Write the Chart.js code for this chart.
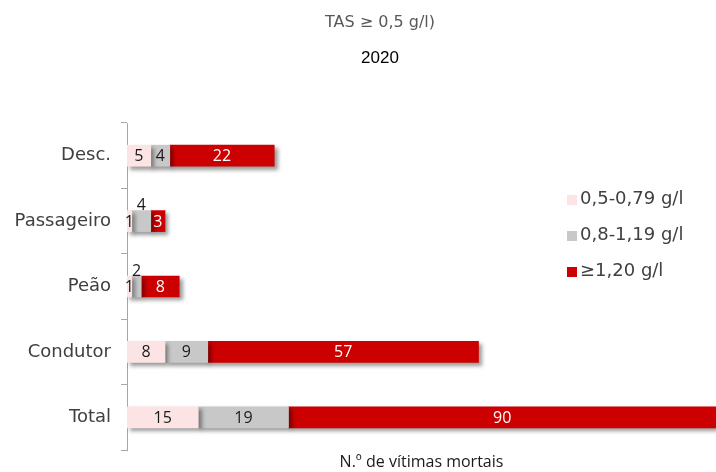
<!DOCTYPE html>
<html>
<head>
<meta charset="utf-8">
<script src="https://cdn.jsdelivr.net/npm/chart.js@4/dist/chart.umd.min.js"></script>
<style>
    body { margin: 0; background: #fff; }
    #wrap { position: relative; width: 716px; height: 472px; }
    .title { position: absolute; left: 280px; width: 200px; text-align: center; }
    #t1 { top: 12px; font: 16px "DejaVu Sans", sans-serif; color: #595959; }
    #t2 { top: 48px; font: 17px "Liberation Sans", sans-serif; color: #000; }
    #legend { position: absolute; left: 567px; top: 187px; font: 18px "DejaVu Sans", sans-serif; color: #404040; }
    #legend div { height: 36px; display: flex; align-items: flex-start; }
    #legend span.box { display: inline-block; width: 10px; height: 10px; margin: 8px 3px 0 0; }
</style>
</head>
<body>
<div id="wrap">
    <canvas id="chart"></canvas>
    <div class="title" id="t1">TAS ≥ 0,5 g/l)</div>
    <div class="title" id="t2">2020</div>
    <div id="legend"></div>
</div>
<script>
document.addEventListener('DOMContentLoaded', function () {
    // data
    const categories = ['Desc.', 'Passageiro', 'Peão', 'Condutor', 'Total'];
    const seriesNames = ['0,5-0,79 g/l', '0,8-1,19 g/l', '≥1,20 g/l'];
    const low = [5, 1, 1, 8, 15];
    const mid = [4, 4, 2, 9, 19];
    const high = [22, 3, 8, 57, 90];

    const colors = {
        low: '#fde4e4',
        mid: '#c8c8c8',
        high: '#cc0000'
    };
    const labelColors = ['#1a1a1a', '#1a1a1a', '#ffffff'];

    // drop shadow on the bars
    const shadowPlugin = {
        id: 'barShadow',
        beforeDatasetDraw(chart) {
            const ctx = chart.ctx;
            ctx.save();
            ctx.shadowColor = 'rgba(0,0,0,0.4)';
            ctx.shadowBlur = 4;
            ctx.shadowOffsetX = 3;
            ctx.shadowOffsetY = 3;
        },
        afterDatasetDraw(chart) {
            chart.ctx.restore();
        }
    };

    // value labels inside the segments
    const labelPlugin = {
        id: 'segLabels',
        afterDatasetsDraw(chart) {
            const ctx = chart.ctx;
            ctx.save();
            ctx.font = '16px "Open Sans", sans-serif';
            ctx.textAlign = 'center';
            chart.data.labels.forEach(function (cat, j) {
                let prevOverflow = false;
                let prevAbove = false;
                chart.data.datasets.forEach(function (ds, i) {
                    const bar = chart.getDatasetMeta(i).data[j];
                    const text = String(ds.data[j]);
                    const w = Math.abs(bar.x - bar.base);
                    const tw = ctx.measureText(text).width;
                    const cx = (bar.x + bar.base) / 2;
                    const above = prevOverflow && !prevAbove;
                    if (above) {
                        ctx.fillStyle = '#1a1a1a';
                        ctx.textBaseline = 'bottom';
                        ctx.fillText(text, cx, bar.y - bar.height / 2 + 3);
                    } else {
                        ctx.fillStyle = w < tw ? '#1a1a1a' : labelColors[i];
                        ctx.textBaseline = 'middle';
                        ctx.fillText(text, cx, bar.y + 1);
                    }
                    prevOverflow = w < tw + 2;
                    prevAbove = above;
                });
            });
            ctx.restore();
        }
    };

    const chart = new Chart(document.getElementById('chart'), {
        type: 'bar',
        data: {
            labels: categories,
            datasets: [
                { label: seriesNames[0], data: low, backgroundColor: colors.low },
                { label: seriesNames[1], data: mid, backgroundColor: colors.mid },
                { label: seriesNames[2], data: high, backgroundColor: colors.high }
            ]
        },
        options: {
            indexAxis: 'y',
            responsive: true,
            maintainAspectRatio: false,
            animation: false,
            layout: { padding: { top: 123, right: 0, left: 0, bottom: 0 } },
            datasets: {
                bar: { barThickness: 21, borderWidth: 0 }
            },
            plugins: {
                legend: { display: false },
                tooltip: { enabled: false }
            },
            scales: {
                x: {
                    stacked: true,
                    min: 0,
                    max: 124,
                    afterFit: function (scale) { scale.height = 22; },
                    grid: { display: false },
                    border: { display: false },
                    ticks: { display: false },
                    title: {
                        display: true,
                        text: 'N.º de vítimas mortais',
                        color: '#1a1a1a',
                        font: { family: 'Open Sans', size: 16 },
                        padding: { top: 1, bottom: 0 }
                    }
                },
                y: {
                    stacked: true,
                    afterFit: function (scale) { scale.width = 127; },
                    grid: {
                        drawOnChartArea: false,
                        color: '#a6a6a6',
                        tickLength: 6
                    },
                    border: { color: '#a6a6a6' },
                    ticks: {
                        color: '#404040',
                        padding: 10,
                        font: { family: 'DejaVu Sans', size: 18 }
                    }
                }
            }
        },
        plugins: [shadowPlugin, labelPlugin]
    });

    // legend built from the chart datasets
    const legend = document.getElementById('legend');
    chart.data.datasets.forEach(function (ds) {
        const row = document.createElement('div');
        row.innerHTML = '<span class="box" style="background:' + ds.backgroundColor + '"></span>' + ds.label;
        legend.appendChild(row);
    });
});
</script>
</body>
</html>
